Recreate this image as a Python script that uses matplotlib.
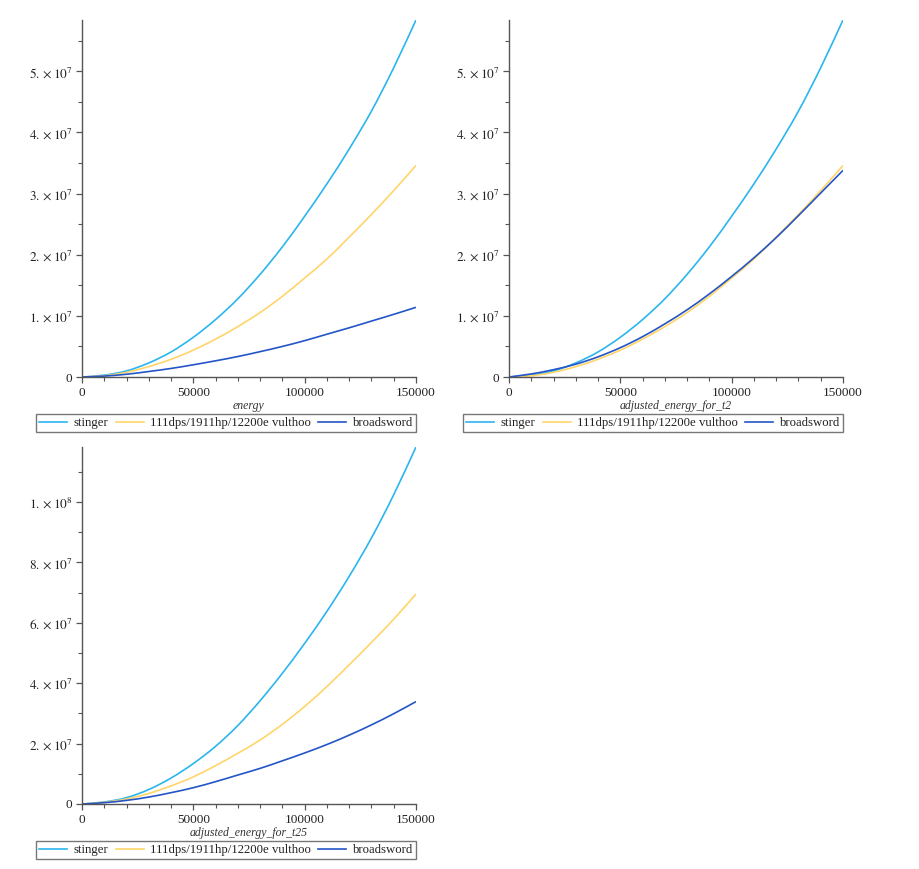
import matplotlib
matplotlib.use("Agg")
import matplotlib.pyplot as plt
from matplotlib.path import Path
from matplotlib.patches import PathPatch
from matplotlib.lines import Line2D
from matplotlib.ticker import MultipleLocator, FixedLocator

plt.rcParams['font.family'] = ['Liberation Serif', 'DejaVu Serif']
plt.rcParams['mathtext.fontset'] = 'stix'

# x values (energy) and curves, y in units of 1e7
energy = [0, 10000, 20000, 30000, 40000, 50000, 60000, 70000, 80000,
          90000, 100000, 110000, 120000, 130000, 140000, 150000]

stinger_e = [0, 0.03, 0.10, 0.23, 0.41, 0.65, 0.94, 1.28, 1.68, 2.13, 2.63, 3.16, 3.73, 4.35, 5.06, 5.84]
vulthoo_e = [0, 0.02, 0.077, 0.17, 0.29, 0.44, 0.62, 0.825, 1.055, 1.32, 1.62, 1.93, 2.29, 2.66, 3.05, 3.46]
broad_e = [0, 0.015, 0.045, 0.09, 0.14, 0.20, 0.265, 0.335, 0.415, 0.50, 0.595, 0.70, 0.805, 0.915, 1.025, 1.14]

stinger_t2 = stinger_e
vulthoo_t2 = vulthoo_e
broad_t2 = [0, 0.05, 0.12, 0.21, 0.33, 0.48, 0.66, 0.87, 1.10, 1.36, 1.645, 1.95, 2.28, 2.64, 3.01, 3.38]

stinger_t25 = [0, 0.066, 0.21, 0.48, 0.86, 1.34, 1.91, 2.60, 3.42, 4.33, 5.32, 6.38, 7.54, 8.81, 10.24, 11.82]
vulthoo_t25 = [0, 0.055, 0.166, 0.35, 0.6, 0.9, 1.27, 1.68, 2.12, 2.64, 3.23, 3.89, 4.61, 5.35, 6.12, 6.95]
broad_t25 = [0, 0.044, 0.12, 0.23, 0.375, 0.54, 0.74, 0.96, 1.18, 1.43, 1.69, 1.97, 2.28, 2.62, 2.99, 3.39]

names = ['stinger', '111dps/1911hp/12200e vulthoo', 'broadsword']
colors = ['#2BB5EE', '#FFD56A', '#2455C8']

W, H = 919, 869
fig = plt.figure(figsize=(W / 100, H / 100), dpi=100)


def smooth_path(xs, ys):
    # curved line through the read points (cubic segments, no new data points)
    pts = list(zip(xs, ys))
    verts = [pts[0]]
    codes = [Path.MOVETO]
    n = len(pts)
    for i in range(n - 1):
        p0 = pts[max(i - 1, 0)]
        p1 = pts[i]
        p2 = pts[i + 1]
        p3 = pts[min(i + 2, n - 1)]
        c1 = (p1[0] + (p2[0] - p0[0]) / 6, p1[1] + (p2[1] - p0[1]) / 6)
        c2 = (p2[0] - (p3[0] - p1[0]) / 6, p2[1] - (p3[1] - p1[1]) / 6)
        verts += [c1, c2, p2]
        codes += [Path.CURVE4, Path.CURVE4, Path.CURVE4]
    return Path(verts, codes)


def ticklabel(v):
    if v == 0:
        return '0'
    e = 0
    m = v
    while m >= 10:
        m = m / 10
        e += 1
    return r'$%d.\times10^{%d}$' % (round(m), e)


def panel(px, py_top, py_bot, series, xlabel, major, minor):
    ax = fig.add_axes([px / W, 1 - py_bot / H, 334 / W, (py_bot - py_top) / H])
    handles = []
    for ys, c, n in zip(series, colors, names):
        p = smooth_path(energy, [v * 1e7 for v in ys])
        ax.add_patch(PathPatch(p, facecolor='none', edgecolor=c, lw=1.2))
        handles.append(Line2D([], [], color=c, lw=1.2, label=n))
    ax.set_xlim(0, 150000)
    ax.set_ylim(0, max(series[0]) * 1e7)
    for s in ['top', 'right']:
        ax.spines[s].set_visible(False)
    for s in ['left', 'bottom']:
        ax.spines[s].set_color('#555555')
        ax.spines[s].set_linewidth(1.0)
    ax.xaxis.set_major_locator(FixedLocator([0, 50000, 100000, 150000]))
    ax.xaxis.set_minor_locator(MultipleLocator(10000))
    ax.set_xticklabels(['0', '50000', '100000', '150000'])
    yt = [i * major for i in range(int(max(series[0]) * 1e7 // major) + 1)]
    ax.yaxis.set_major_locator(FixedLocator(yt))
    ax.yaxis.set_minor_locator(MultipleLocator(minor))
    ax.set_yticklabels([ticklabel(v) for v in yt])
    ax.tick_params(which='major', length=4, width=0.9, color='#555555', labelsize=9.5,
                   labelcolor='#222222', pad=3)
    ax.tick_params(which='minor', length=3, width=0.8, color='#555555')
    ax.set_xlabel(xlabel, fontstyle='italic', fontsize=8.5, color='#333333', labelpad=1)
    h = py_bot - py_top
    leg = ax.legend(handles=handles, loc='upper right', bbox_to_anchor=(1.0, -37 / h),
                    ncol=3, fontsize=9.2, frameon=True, fancybox=False,
                    edgecolor='#555555', borderpad=0.25, handlelength=2.2, handletextpad=0.5,
                    borderaxespad=0, columnspacing=0.55)
    leg.get_frame().set_linewidth(1.0)
    for t in leg.get_texts():
        t.set_color('#222222')
    return ax


panel(82, 20, 377, [stinger_e, vulthoo_e, broad_e], 'energy', 1e7, 5e6)
panel(509, 20, 377, [stinger_t2, vulthoo_t2, broad_t2], 'adjusted_energy_for_t2', 1e7, 5e6)
panel(82, 447, 804, [stinger_t25, vulthoo_t25, broad_t25], 'adjusted_energy_for_t25', 2e7, 1e7)

fig.savefig('out.png', dpi=100, facecolor='white')
